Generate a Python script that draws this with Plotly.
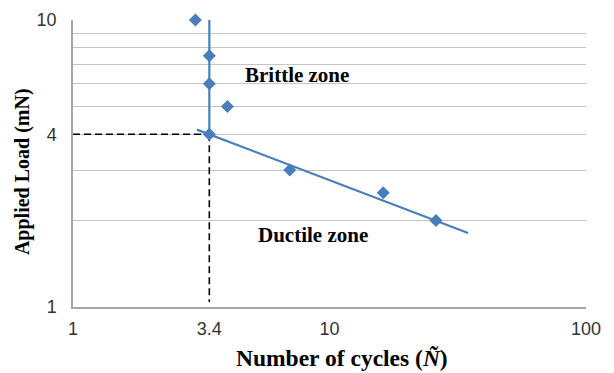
import math
import plotly.graph_objects as go

# data points (cycles, load)
cycles = [3.0, 3.4, 3.4, 4.0, 3.4, 7.0, 16.2, 26.0]
load = [10.0, 7.5, 6.0, 5.0, 4.0, 3.0, 2.5, 2.0]

# brittle (vertical) fit and ductile power-law trend
brittle_x = [3.4, 3.4]
brittle_y = [10.6, 4.0]
ductile_x = [3.04, 34.7]
ductile_y = [4.15, 1.81]

# critical point guides
crit_x = 3.4
crit_y = 4.0

x_ticks = [1, 3.4, 10, 100]
x_labels = ["1", "3.4", "10", "100"]
y_ticks = [1, 2, 3, 4, 5, 6, 7, 8, 9, 10]
y_labels = ["1", "", "", "4", "", "", "", "", "", "10"]

blue = "#4a7ebb"

fig = go.Figure()
fig.add_trace(go.Scatter(x=[1, crit_x], y=[crit_y, crit_y], mode="lines",
                         line=dict(color="black", width=1.6, dash="7px,4px"), hoverinfo="skip"))
fig.add_trace(go.Scatter(x=[crit_x, crit_x], y=[crit_y, 1.04], mode="lines",
                         line=dict(color="black", width=1.6, dash="7px,4px"), hoverinfo="skip"))
fig.add_trace(go.Scatter(x=brittle_x, y=brittle_y, mode="lines",
                         line=dict(color=blue, width=2.2), cliponaxis=False))
fig.add_trace(go.Scatter(x=ductile_x, y=ductile_y, mode="lines",
                         line=dict(color=blue, width=2.2)))
fig.add_trace(go.Scatter(x=cycles, y=load, mode="markers", cliponaxis=False,
                         marker=dict(symbol="diamond", size=10, color=blue)))

fig.add_annotation(x=math.log10(7.45), y=math.log10(6.43), xref="x", yref="y",
                   text="<b>Brittle zone</b>", showarrow=False,
                   font=dict(family="Liberation Serif", size=21, color="black"))
fig.add_annotation(x=math.log10(8.62), y=math.log10(1.78), xref="x", yref="y",
                   text="<b>Ductile zone</b>", showarrow=False,
                   font=dict(family="Liberation Serif", size=21, color="black"))
# axis titles (paper coords relative to plot area)
fig.add_annotation(x=0.524, y=-0.178, xref="paper", yref="paper",
                   xanchor="center", yanchor="middle", showarrow=False,
                   text="<b>Number of cycles (<i>Ñ</i>)</b>",
                   font=dict(family="Liberation Serif", size=23.5, color="black"))
fig.add_annotation(x=-0.0994, y=0.47, xref="paper", yref="paper",
                   xanchor="center", yanchor="middle", showarrow=False, textangle=-90,
                   text="<b>Applied Load (mN)</b>",
                   font=dict(family="Liberation Serif", size=20, color="black"))

fig.update_layout(
    width=614, height=373,
    margin=dict(l=73, r=28, t=20, b=66),
    paper_bgcolor="white", plot_bgcolor="white",
    showlegend=False,
    xaxis=dict(type="log", range=[0, 2], tickvals=x_ticks, ticktext=x_labels,
               showgrid=False, showline=True, linecolor="#a6a6a6", linewidth=1.5,
               ticks="", zeroline=False, ticklabelstandoff=5, automargin=False,
               tickfont=dict(family="Liberation Sans", size=18, color="#333333")),
    yaxis=dict(type="log", range=[0, 1], tickvals=y_ticks, ticktext=y_labels,
               showgrid=True, gridcolor="#c4c4c4", gridwidth=1.2,
               showline=True, linecolor="#a6a6a6", linewidth=1.5,
               ticks="", zeroline=False, ticklabelstandoff=11, automargin=False,
               tickfont=dict(family="Liberation Sans", size=18, color="#333333")),
)

fig.write_html("out.html")
